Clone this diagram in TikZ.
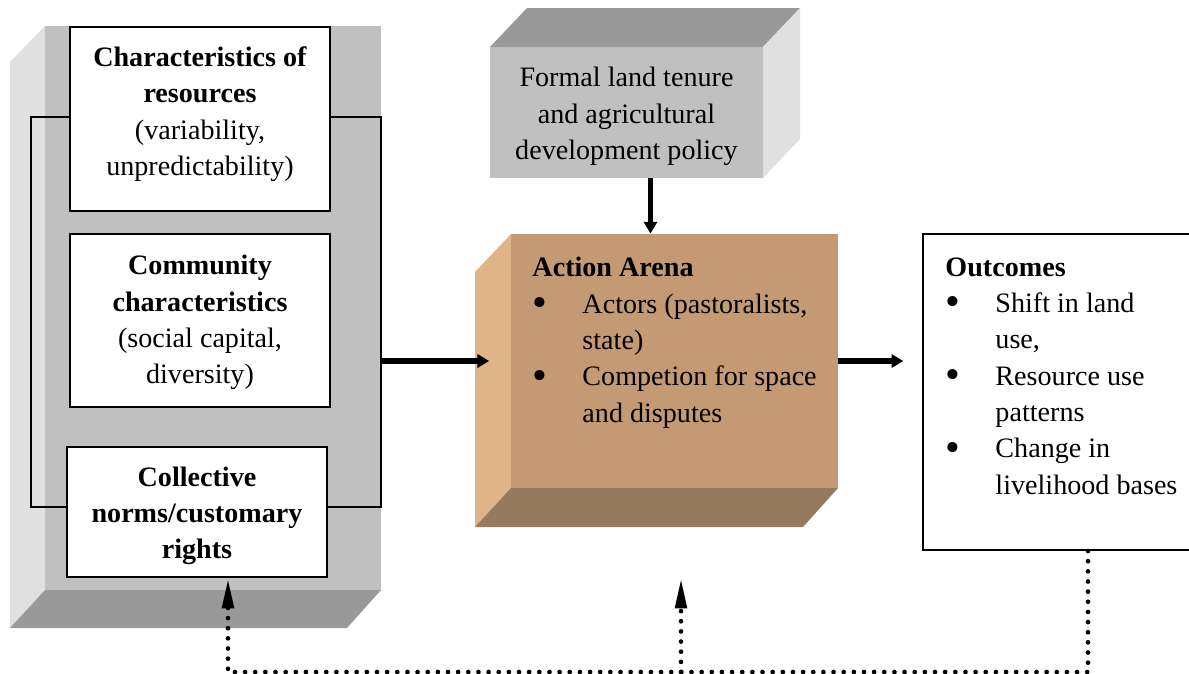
\documentclass[tikz,border=0pt]{standalone}
\usepackage{fontspec}
\setmainfont{Liberation Serif}
\usepackage{tikz}
\usetikzlibrary{fit}
\usetikzlibrary{calc}
\usetikzlibrary{arrows.meta}
\usetikzlibrary{positioning}
\definecolor{facegray}{RGB}{192,192,192}
\definecolor{palegray}{RGB}{224,224,224}
\definecolor{shadegray}{RGB}{153,153,153}
\definecolor{tanface}{RGB}{196,154,116}
\definecolor{tanpale}{RGB}{222,180,137}
\definecolor{tanshade}{RGB}{150,122,92}
\newcommand{\itm}{\makebox[0.75cm][l]{\raisebox{-0.12em}{\scalebox{1.5}{\textbullet}}}}
\newcommand{\ind}{\hspace*{0.75cm}}

\begin{document}
\begin{tikzpicture}[x=0.015cm, y=-0.015cm, font=\fontsize{12}{15.5}\selectfont,
    face/.style={inner sep=0pt},
    whitebox/.style={draw, line width=0.9pt, fill=white, inner sep=0pt},
    txt/.style={align=center, inner sep=0pt},
    listtxt/.style={align=left, inner sep=0pt, anchor=north west},
    flow/.style={line width=2.6pt, -{Triangle[length=5pt,width=5.6pt]}},
    feedback/.style={line width=2pt, line cap=round, dash pattern=on 0pt off 4.33pt,
                     -{Triangle[length=13pt,width=4.8pt]}}]
    \useasboundingbox (0,0) rectangle (1189,674);
    \clip (0,0) rectangle (1189,674);

    % context block (left)
    \node[face, fill=facegray, fit={(45,26) (381,590)}] (ctx) {};
    \fill[palegray]  ( 10, 62) -- ( 45, 26) -- ( 45,590) -- ( 10,628) -- cycle;
    \fill[shadegray] ( 45,590) -- (381,590) -- (347,628) -- ( 10,628) -- cycle;
    \draw[line width=0.8pt] (31,117) rectangle (381,507);

    \node[whitebox, fit={(70,27) (330,211)}]  (resbox)  {};
    \node[txt] (restxt) at (200,114)
        {\textbf{Characteristics of}\\\textbf{resources}\\(variability,\\unpredictability)};
    \node[whitebox, fit={(70,234) (330,407)}] (commbox) {};
    \node[txt] (commtxt) at ([yshift=-0.03cm]commbox.center)
        {\textbf{Community}\\\textbf{characteristics}\\(social capital,\\diversity)};
    \node[whitebox, fit={(67,447) (327,577)}] (normbox) {};
    \node[txt] (normtxt) at ([yshift=-0.06cm]normbox.center)
        {\textbf{Collective}\\\textbf{norms/customary}\\\textbf{rights}};

    % policy block (top)
    \node[face, fill=facegray, fit={(490,47) (763,178)}] (policy) {};
    \fill[shadegray] (490, 47) -- (527,  8) -- (800,  8) -- (763, 47) -- cycle;
    \fill[palegray]  (763, 47) -- (800,  8) -- (800,139) -- (763,178) -- cycle;
    \node[txt] (policytxt) at ([yshift=-0.06cm]policy.center)
        {Formal land tenure\\and agricultural\\development policy};

    % action arena
    \node[face, fill=tanface, fit={(511,234) (838,488)}] (arena) {};
    \fill[tanpale]  (475,272) -- (511,234) -- (511,488) -- (475,527) -- cycle;
    \fill[tanshade] (511,488) -- (838,488) -- (803,527) -- (475,527) -- cycle;
    \node[listtxt] (arenatxt) at (532,257)
        {\textbf{Action Arena}\\
         \itm Actors (pastoralists,\\
         \ind state)\\
         \itm Competion for space\\
         \ind and disputes};

    % outcomes
    \node[whitebox, fit={(923,234) (1210,550)}] (outbox) {};
    \node[listtxt] (outtxt) at (945,257)
        {\textbf{Outcomes}\\
         \itm Shift in land\\
         \ind use,\\
         \itm Resource use\\
         \ind patterns\\
         \itm Change in\\
         \ind livelihood bases};

    % connectors
    \draw[flow, shorten >=0.32cm] (ctx.east |- arena.west) -- (arena.west);
    \draw[flow, shorten >=0.28cm] (arena.east) -- (arena.east -| outbox.west);
    \draw[flow, line width=1.9pt] ([xshift=0.36cm]policy.south) -- ([xshift=0.36cm]policy.south |- arena.north);

    \coordinate (fbcorner) at (1088,672);
    \coordinate (normfb)   at (228,578);
    \coordinate (arenafb)  at (681,578);
    \draw[feedback] (outbox.south -| fbcorner) |- (normfb |- fbcorner) -- (normfb);
    \draw[feedback] (arenafb |- fbcorner) -- (arenafb);
\end{tikzpicture}
\end{document}
